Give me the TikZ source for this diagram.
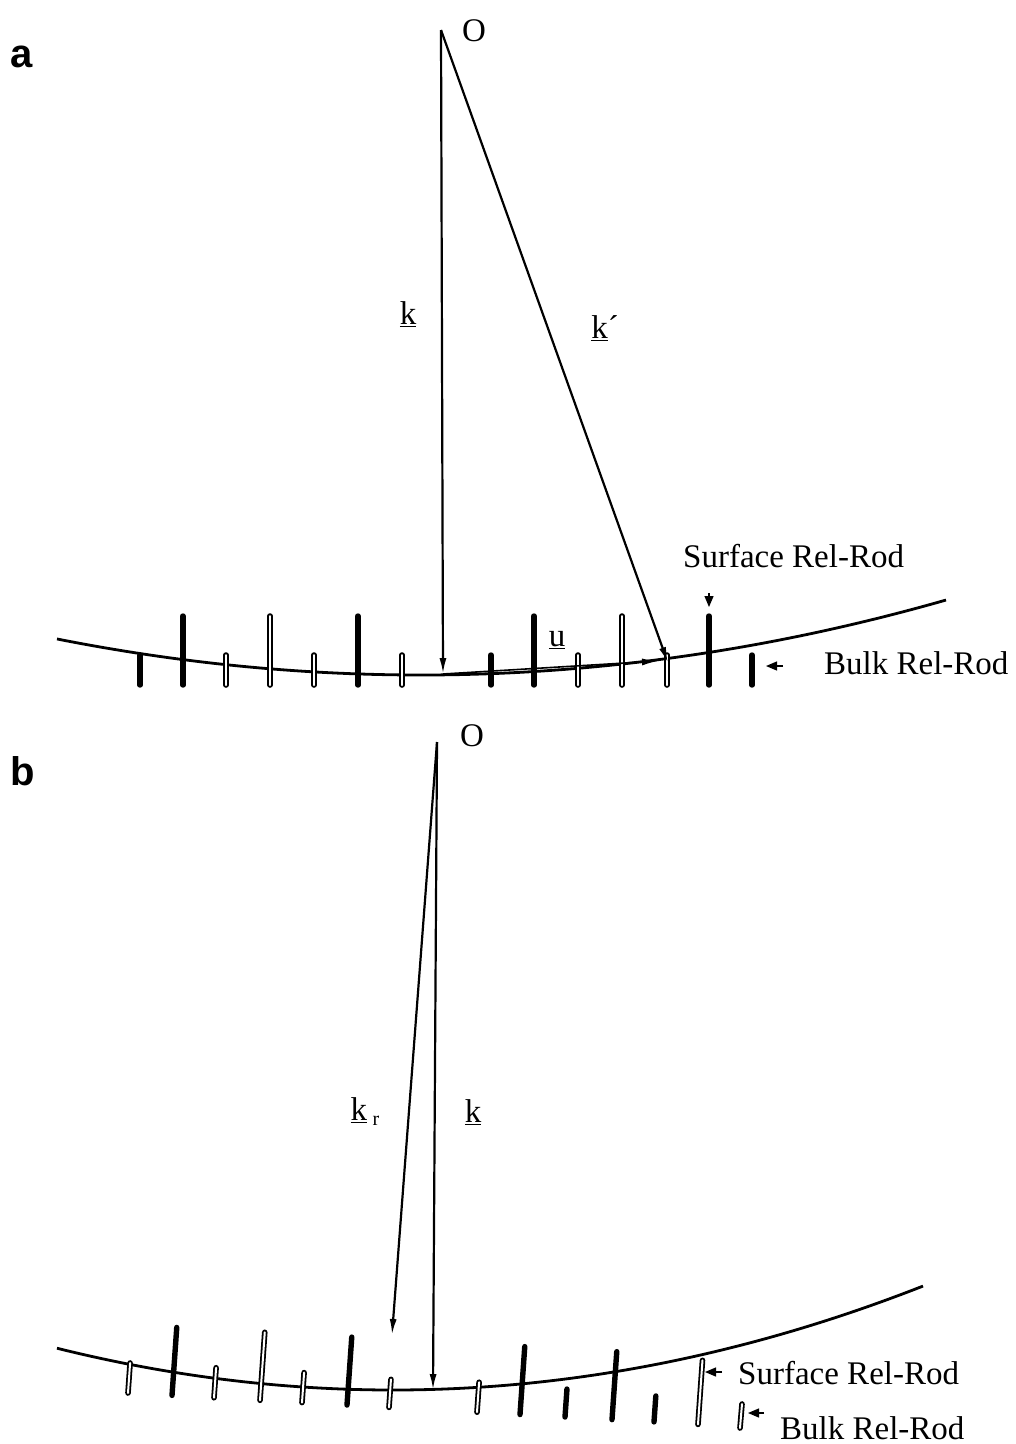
\documentclass[tikz,border=0pt]{standalone}
\usepackage{fontspec}
\setmainfont{Liberation Serif}
\setsansfont{Liberation Sans}
\usetikzlibrary{arrows.meta}

\begin{document}
\begin{tikzpicture}[x=1pt, y=-1pt, >={Latex[length=16pt,width=7pt]},
  vec/.style={->, line width=2.2pt},
  surf/.style={line width=2.8pt},
  rodsolid/.style={line width=5.4pt, line cap=round},
  rodhollow/.style={line width=1.8pt, double=white, double distance=2pt, line cap=round},
  pointer/.style={-{Triangle[length=11pt,width=9pt]}, line width=1.2pt},
  lbl/.style={font=\fontsize{33}{36}\selectfont, inner sep=0pt},
  panel/.style={font=\sffamily\bfseries\fontsize{40}{44}\selectfont, inner sep=0pt}]
  \useasboundingbox (0,0) rectangle (1016,1444);

  % (a) Ewald sphere and rods
  \node[panel, anchor=base west] (pa) at (10,67) {a};
  \draw[surf] plot[domain=57:946, samples=80] (\x, {675-2.72*((\x-421)/100)^2});
  \foreach \xr/\len/\st in {140/30/rodsolid, 183/69/rodsolid, 226/30/rodhollow,
      270/69/rodhollow, 314/30/rodhollow, 358/69/rodsolid, 402/30/rodhollow,
      491/30/rodsolid, 534/69/rodsolid, 578/30/rodhollow, 622/69/rodhollow,
      667/30/rodhollow, 709/69/rodsolid, 752/30/rodsolid}
    \draw[\st] (\xr,685) -- ++(0,-\len);

  \coordinate (Oa) at (441,30);
  \coordinate (ka) at (443,674);
  \coordinate (kpa) at (668,663);
  \coordinate (ua) at (658,661);
  \node[lbl, anchor=base west] (Oalbl) at (462,41) {O};
  \draw[vec] (Oa) -- (ka);
  \draw[vec] (Oa) -- (kpa);
  \draw[->, line width=1.6pt] (ka) -- (ua);
  \node[lbl] (kalbl) at (408,314) {\underline{k}};
  \node[lbl] (kpalbl) at (605,328) {\underline{k}´};
  \node[lbl] (ualbl) at (557,640) {\underline{u}};

  \node[lbl, anchor=base west] (surfa) at (683,567) {Surface Rel-Rod};
  \node[lbl, anchor=base west] (bulka) at (824,674) {Bulk Rel-Rod};
  \draw[pointer] (709,593) -- (709,607);
  \draw[pointer] (783,666) -- (766,666);

  % (b) tilted rods
  \node[panel, anchor=base west] (pb) at (10,785) {b};
  \draw[surf] plot[domain=57:923, samples=80] (\x, {1390-3.7*((\x-393)/100)^2});
  \foreach \xr/\len/\st in {128/30/rodhollow, 172/68/rodsolid, 214/30/rodhollow,
      260/68/rodhollow, 302/30/rodhollow, 347/68/rodsolid, 389/28/rodhollow,
      477/30/rodhollow, 520/68/rodsolid, 565/28/rodsolid, 612/68/rodsolid,
      654/26/rodsolid, 698/64/rodhollow}
    \draw[\st] (\xr, {1393+0.055*(\xr-128)}) -- ++({0.07*\len}, -\len);

  \coordinate (Ob) at (437,742);
  \coordinate (kb) at (433,1390);
  \coordinate (krb) at (392,1335);
  \node[lbl, anchor=base west] (Oblbl) at (460,746) {O};
  \draw[vec] (Ob) -- (kb);
  \draw[vec] (Ob) -- (krb);
  \node[lbl] (krblbl) at (365,1112) {\underline{k}\,\raisebox{-5pt}{\fontsize{20}{22}\selectfont r}};
  \node[lbl] (kblbl) at (473,1112) {\underline{k}};

  \node[lbl, anchor=base west] (surfb) at (738,1384) {Surface Rel-Rod};
  \node[lbl, anchor=base west] (bulkb) at (780,1439) {Bulk Rel-Rod};
  \draw[pointer] (722,1372) -- (705,1372);
  \draw[rodhollow] (740,1428) -- (742,1404);
  \draw[pointer] (764,1413) -- (748,1413);
\end{tikzpicture}
\end{document}
